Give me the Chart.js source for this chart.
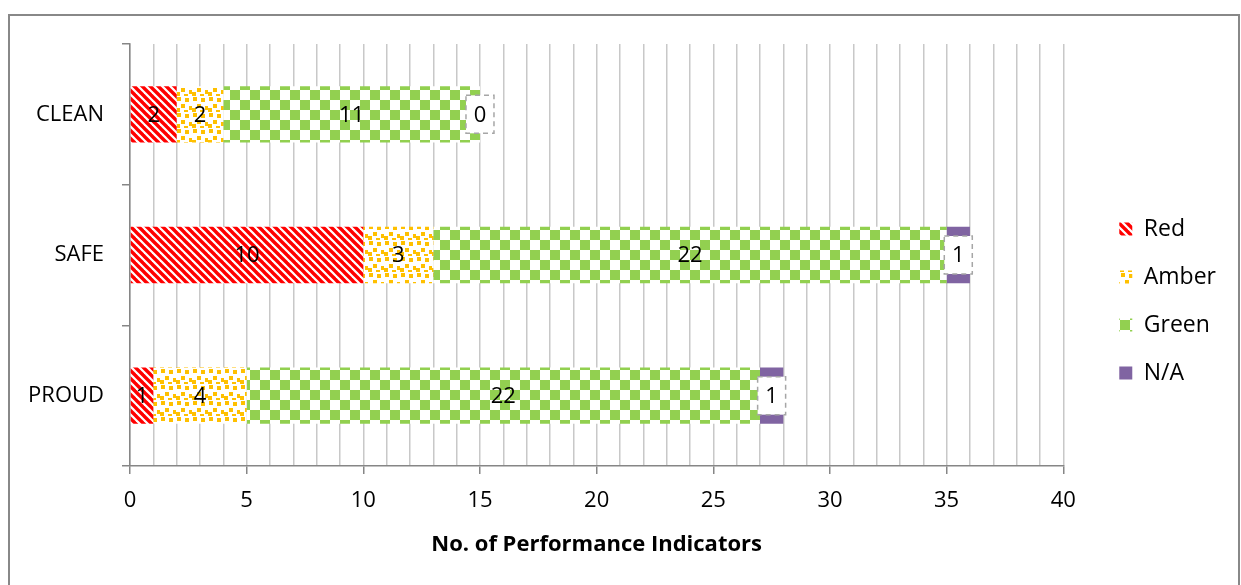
<!DOCTYPE html>
<html>
<head>
<meta charset="utf-8">
<script src="https://cdn.jsdelivr.net/npm/chart.js@4.4.1/dist/chart.umd.min.js"></script>
<style>
html, body { margin: 0; padding: 0; background: #fff; }
#wrap { position: relative; width: 1241px; height: 585px; overflow: hidden; }
#frame { position: absolute; left: 8px; top: 14px; width: 1232px; height: 600px;
  border: 2px solid #888; border-bottom: none; box-sizing: border-box; pointer-events: none; }
canvas { position: absolute; left: 0; top: 0; }
</style>
</head>
<body>
<div id="wrap">
  <canvas id="chart" width="1241" height="585"></canvas>
  <div id="frame"></div>
</div>
<script>
// data
const categories = ["CLEAN", "SAFE", "PROUD"];
const seriesNames = ["Red", "Amber", "Green", "N/A"];
const redValues = [2, 10, 1];
const amberValues = [2, 3, 4];
const greenValues = [11, 22, 22];
const naValues = [0, 1, 1];
const xTickStep = 5;
const xMax = 40;

const FONT = '"Open Sans", "Liberation Sans", sans-serif';

// fill patterns (Excel style)
function makePattern(size, draw) {
  const c = document.createElement("canvas");
  c.width = c.height = size;
  const g = c.getContext("2d");
  g.fillStyle = "#fff";
  g.fillRect(0, 0, size, size);
  draw(g, size);
  return document.createElement("canvas").getContext("2d").createPattern(c, "repeat");
}

const redPattern = makePattern(8, (g, s) => {
  g.strokeStyle = "#FF0000";
  g.lineWidth = 3.4;
  for (let k = -1; k <= 1; k++) {
    g.beginPath();
    g.moveTo(k * s - 2, -2);
    g.lineTo(k * s + s + 2, s + 2);
    g.stroke();
  }
});

const amberPattern = makePattern(16, (g) => {
  g.fillStyle = "#FFC000";
  [[1, 1], [9, 2], [5, 8], [13, 10], [0, 12], [8, 14]].forEach(([x, y]) => g.fillRect(x, y, 4, 4));
});

const greenPattern = makePattern(20, (g) => {
  g.fillStyle = "#92D050";
  g.fillRect(0, 0, 10, 10);
  g.fillRect(10, 10, 10, 10);
});

// value labels in the middle of each segment, N/A ones in a dashed box
const barLabels = {
  id: "barLabels",
  afterDatasetsDraw(chart) {
    const ctx = chart.ctx;
    ctx.save();
    ctx.font = "22px " + FONT;
    ctx.textAlign = "center";
    ctx.textBaseline = "middle";
    chart.data.datasets.forEach((ds, di) => {
      chart.getDatasetMeta(di).data.forEach((bar, i) => {
        const cx = (bar.x + bar.base) / 2;
        const cy = bar.y;
        if (ds.boxed) {
          ctx.fillStyle = "#fff";
          ctx.fillRect(cx - 14, cy - 19, 28, 38);
          ctx.setLineDash([5, 4]);
          ctx.strokeStyle = "#A6A6A6";
          ctx.lineWidth = 1.5;
          ctx.strokeRect(cx - 14, cy - 19, 28, 38);
          ctx.setLineDash([]);
        }
        ctx.fillStyle = "#000";
        ctx.fillText(String(ds.data[i]), cx, cy + 1);
      });
    });
    ctx.restore();
  }
};

new Chart(document.getElementById("chart"), {
  type: "bar",
  data: {
    labels: categories,
    datasets: [
      { label: seriesNames[0], data: redValues, backgroundColor: redPattern },
      { label: seriesNames[1], data: amberValues, backgroundColor: amberPattern },
      { label: seriesNames[2], data: greenValues, backgroundColor: greenPattern },
      { label: seriesNames[3], data: naValues, backgroundColor: "#8064A2", boxed: true }
    ]
  },
  options: {
    indexAxis: "y",
    responsive: false,
    animation: false,
    devicePixelRatio: 1,
    datasets: { bar: { barPercentage: 0.4, categoryPercentage: 1, borderWidth: 0 } },
    layout: { padding: { top: 44, left: 0, right: 15, bottom: 27 } },
    plugins: {
      tooltip: { enabled: false },
      legend: {
        position: "right",
        align: "center",
        labels: {
          boxWidth: 13,
          boxHeight: 13,
          padding: 25,
          color: "#000",
          font: { family: FONT, size: 23 }
        }
      }
    },
    scales: {
      x: {
        type: "linear",
        stacked: true,
        min: 0,
        max: xMax,
        ticks: {
          stepSize: 1,
          autoSkip: false,
          maxRotation: 0,
          padding: 14,
          color: "#000",
          font: { family: FONT, size: 22 },
          callback: v => (v % xTickStep === 0 ? v : "")
        },
        grid: {
          color: "#C8C8C8",
          lineWidth: 1.5,
          tickLength: 8,
          tickColor: c => (c.tick && c.tick.value % xTickStep === 0 ? "#868686" : "rgba(0,0,0,0)")
        },
        border: { color: "#868686", width: 1.5 },
        title: {
          display: true,
          text: "No. of Performance Indicators",
          color: "#000",
          font: { family: FONT, size: 22, weight: "bold" },
          padding: { top: 0, bottom: 0 }
        },
        afterFit: s => { s.height = 92; }
      },
      y: {
        type: "category",
        stacked: true,
        ticks: { color: "#000", padding: 18, font: { family: FONT, size: 22 } },
        grid: { offset: true, drawOnChartArea: false, tickLength: 8, color: "#868686", lineWidth: 1.5 },
        border: { color: "#868686", width: 1.5 },
        afterFit: s => { s.width = 130; }
      },
      spacer: {
        type: "linear",
        position: "right",
        grid: { display: false },
        border: { display: false },
        ticks: { display: false },
        afterFit: s => { s.width = 31; }
      }
    }
  },
  plugins: [barLabels]
});
</script>
</body>
</html>
